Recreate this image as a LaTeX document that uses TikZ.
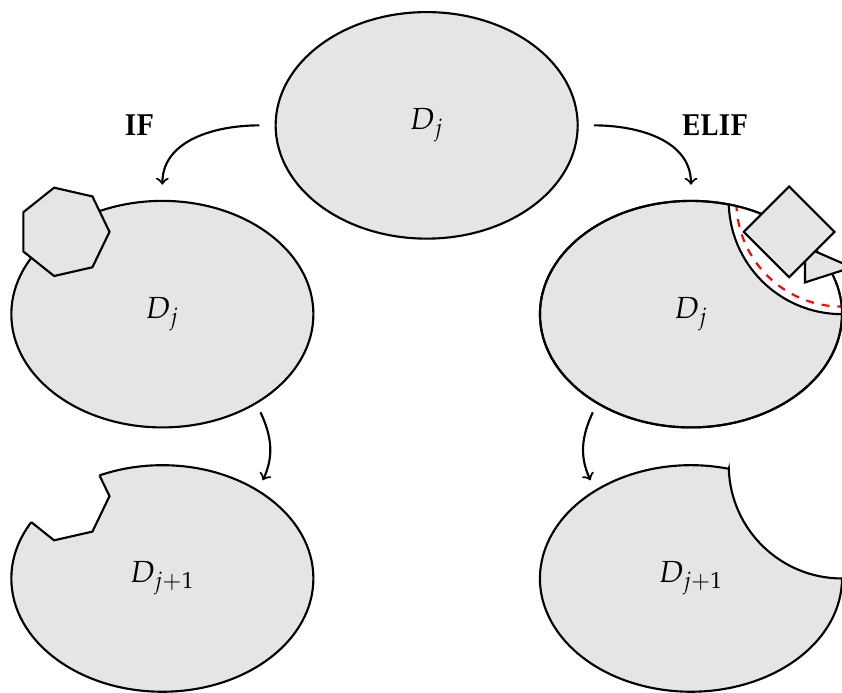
\documentclass[tikz,border=0pt]{standalone}
\usepackage{amsmath}
\usepackage[T1]{fontenc}
\usepackage{mathpazo}
\usepackage{tikz}
\usetikzlibrary{calc,shapes.geometric}

\begin{document}
\begin{tikzpicture}[font=\fontsize{11.5}{14}\selectfont,
    region/.style={draw, thick, fill=gray!20, ellipse, minimum width=4cm, minimum height=3cm, inner sep=0pt},
    piece/.style={draw, thick, fill=gray!20},
    branch/.style={font=\fontsize{11.5}{14}\selectfont\bfseries},
    flow/.style={->, thick}]
  \clip (-5.65,-7.51) rectangle (5.5,1.66);

  \node[region] (T) at (0,0) {$D_j$};
  \node[region] (L) at (-3.5,-2.5) {$D_j$};
  \node[region] (R) at (3.5,-2.5) {$D_j$};

  \coordinate (hl) at ($(L.center)+(-1.3,1.09)$);
  \coordinate (hb) at (-4.8,-4.91);
  \coordinate (rc) at ($(R.center)+(2,1.5)$);

  % IF branch: heptagon on the boundary
  \draw[piece] ($(hl)+(0:0.6)$) \foreach \k in {1,...,6}{ -- ($(hl)+(\k*360/7:0.6)$)} -- cycle;

  % cut out the heptagon
  \begin{scope}[even odd rule]
    \clip (-6,-8) rectangle (0,-3.2)
      ($(hb)+(0:0.6)$) \foreach \k in {1,...,6}{ -- ($(hb)+(\k*360/7:0.6)$)} -- cycle;
    \draw[piece] (-3.5,-6) ellipse (2 and 1.5);
  \end{scope}
  \begin{scope}
    \clip (-3.5,-6) ellipse (2 and 1.5);
    \draw[thick] ($(hb)+(0:0.6)$) \foreach \k in {1,...,6}{ -- ($(hb)+(\k*360/7:0.6)$)} -- cycle;
  \end{scope}
  \node (LB) at (-3.5,-6) {$D_{j+1}$};

  % ELIF branch: band round the corner
  \begin{scope}
    \clip (R.center) ellipse (2 and 1.5);
    \fill[white] (rc) circle (1.5);
    \draw[thick] (rc) circle (1.5);
    \draw[red, thick, dashed] (rc) circle (1.4);
  \end{scope}
  \draw[thick] (R.center) ellipse (2 and 1.5);
  \draw[piece] ($(R.center)+(1.51,0.89)$) -- ($(R.center)+(2.13,0.62)$) -- ($(R.center)+(1.51,0.42)$) -- cycle;
  \draw[piece] ($(R.center)+(1.3,1.69)$) -- ($(R.center)+(1.9,1.09)$) -- ($(R.center)+(1.3,0.49)$) -- ($(R.center)+(0.7,1.09)$) -- cycle;

  % corner removed
  \draw[piece] (3.5,-6) ++(75.5:2 and 1.5)
    arc[start angle=75.5, end angle=360, x radius=2, y radius=1.5]
    arc[start angle=270, end angle=181.82, radius=1.5] -- cycle;
  \node (RB) at (3.5,-6) {$D_{j+1}$};

  % branches
  \node[branch] (if) at (-3.81,0) {IF};
  \node[branch] (elif) at (3.81,0) {ELIF};
  \draw[flow] ([xshift=-0.2cm]T.west) to[out=180, in=90] ([yshift=0.2cm]L.north);
  \draw[flow] ([xshift=0.2cm]T.east) to[out=0, in=90] ([yshift=0.2cm]R.north);

  \draw[flow] ($(L.center)+(1.3,-1.3)$) to[out=-65, in=65] ($(LB.center)+(1.33,1.3)$);
  \draw[flow] ($(R.center)+(-1.3,-1.3)$) to[out=-115, in=115] ($(RB.center)+(-1.33,1.3)$);
\end{tikzpicture}
\end{document}
